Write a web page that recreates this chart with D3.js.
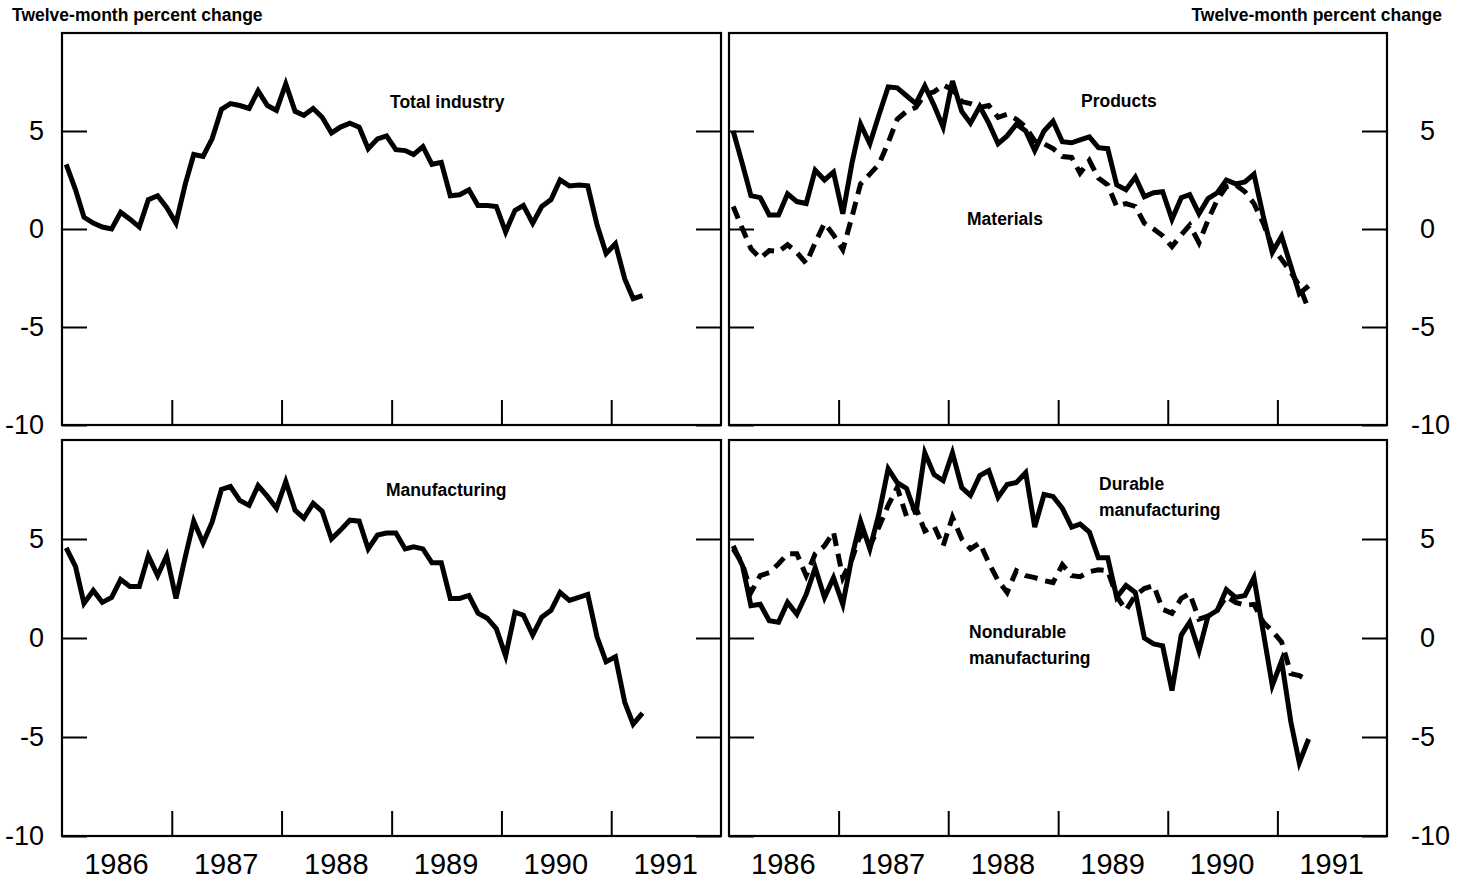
<!DOCTYPE html>
<html><head><meta charset="utf-8">
<script src="https://cdn.jsdelivr.net/npm/d3@7"></script>
<style>
body{margin:0;background:#fff}
svg{display:block}
text{font-family:"Liberation Sans",Arial,Helvetica,sans-serif;fill:#000}
</style>
</head><body>
<svg id="chart" width="1463" height="883"></svg>
<script>
// ---- data (twelve-month percent change, monthly, Jan 1986 - Apr 1991) ----
const startYear = 1986;
const totalIndustry = [3.3,2.0,0.6,0.3,0.1,0.0,0.85,0.5,0.1,1.5, 1.7,1.1,0.3,2.3,3.8,3.7,4.6,6.1,6.4,6.3, 6.15,7.05,6.3,6.05,7.4,6.0,5.8,6.15,5.7,4.9, 5.2,5.4,5.2,4.1,4.6,4.75,4.05,4.0,3.8,4.2, 3.3,3.4,1.7,1.75,2.0,1.2,1.2,1.15,-0.15,0.95, 1.2,0.3,1.15,1.5,2.5,2.2,2.25,2.2,0.2,-1.25, -0.75,-2.55,-3.55,-3.4];
const products = [5.0,3.3,1.7,1.6,0.72,0.72,1.8,1.4,1.3,3.0, 2.5,2.9,0.78,3.4,5.35,4.35,5.8,7.25,7.2,6.8, 6.4,7.3,6.3,5.2,7.55,6.0,5.4,6.25,5.4,4.35, 4.75,5.35,5.0,4.0,5.0,5.5,4.45,4.4,4.55,4.7, 4.15,4.1,2.25,2.0,2.65,1.65,1.85,1.9,0.5,1.6, 1.75,0.78,1.55,1.85,2.5,2.3,2.4,2.8,0.65,-1.2, -0.37,-1.9,-3.3,-2.9];
const materials = [1.15,0.0,-1.0,-1.5,-1.1,-1.15,-0.8,-1.2,-1.75,-0.7, 0.3,-0.3,-1.05,0.65,2.3,2.8,3.3,4.4,5.6,6.0, 6.2,6.85,7.0,7.35,7.1,6.5,6.4,6.2,6.3,5.7, 5.85,5.6,5.2,4.5,4.35,4.1,3.7,3.65,2.85,3.5, 2.6,2.25,1.15,1.3,1.15,0.3,0.0,-0.35,-0.9,-0.3, 0.2,-0.7,0.45,1.5,2.15,2.25,1.9,1.3,0.3,-0.9, -1.55,-2.2,-2.9,-4.1];
const manufacturing = [4.55,3.6,1.75,2.4,1.8,2.05,2.95,2.6,2.6,4.15, 3.15,4.15,2.0,4.1,5.9,4.8,5.85,7.5,7.65,6.95, 6.7,7.7,7.15,6.55,7.9,6.45,6.05,6.8,6.4,5.0, 5.45,5.95,5.9,4.5,5.2,5.3,5.3,4.5,4.6,4.5, 3.8,3.8,2.0,2.0,2.15,1.25,1.0,0.47,-0.9,1.3, 1.15,0.15,1.05,1.4,2.3,1.9,2.05,2.2,0.05,-1.2, -0.95,-3.25,-4.35,-3.8];
const durable = [4.65,3.65,1.63,1.7,0.87,0.8,1.8,1.2,2.2,3.55, 2.05,3.05,1.7,4.15,5.9,4.5,6.25,8.55,7.85,7.55, 6.25,9.35,8.25,7.95,9.35,7.6,7.2,8.2,8.45,7.1, 7.75,7.85,8.35,5.6,7.25,7.15,6.55,5.6,5.75,5.35, 4.05,4.05,2.05,2.65,2.3,0.0,-0.3,-0.4,-2.65,0.15, 0.8,-0.65,1.1,1.4,2.45,2.05,2.15,3.05,0.3,-2.4, -1.15,-4.25,-6.3,-5.1];
const nondurable = [4.5,3.75,2.3,3.15,3.3,3.75,4.25,4.25,3.15,4.25, 4.65,5.35,3.05,4.0,5.25,4.65,5.6,6.7,7.6,6.15, 6.6,5.4,5.65,4.65,6.1,5.0,4.5,4.8,3.8,2.9, 2.3,3.4,3.15,3.05,2.9,2.8,3.7,3.15,3.1,3.35, 3.45,3.4,2.1,1.4,2.15,2.5,2.65,1.45,1.25,2.0, 2.25,0.95,1.1,1.4,2.1,1.8,1.65,1.7,0.8,0.35, -0.2,-1.8,-1.9,-2.15];

const yTickValues = [-10, -5, 0, 5];
const yearLabels = [1986, 1987, 1988, 1989, 1990, 1991];
const yearTicks = [1987, 1988, 1989, 1990, 1991];
const axisTitle = "Twelve-month percent change";

// ---- layout ----
const svg = d3.select("#chart");
svg.append("rect").attr("width", 1463).attr("height", 883).attr("fill", "#fff");

const monthDate = i => new Date(startYear, i, 15);
const domainX = [new Date(startYear, 0, 1), new Date(1992, 0, 1)];

const panels = [
  {x0: 62, x1: 721, y0: 33, y1: 425, outer: "left",
   series: [{v: totalIndustry, dash: null}],
   labels: [{lines: ["Total industry"], x: 390, y: 108}]},
  {x0: 729, x1: 1387, y0: 33, y1: 425, outer: "right",
   series: [{v: materials, dash: "13,8"}, {v: products, dash: null}],
   labels: [{lines: ["Products"], x: 1081, y: 107}, {lines: ["Materials"], x: 967, y: 225}]},
  {x0: 62, x1: 721, y0: 440, y1: 836, outer: "left",
   series: [{v: manufacturing, dash: null}],
   labels: [{lines: ["Manufacturing"], x: 386, y: 496}]},
  {x0: 729, x1: 1387, y0: 440, y1: 836, outer: "right",
   series: [{v: nondurable, dash: "13,8"}, {v: durable, dash: null}],
   labels: [{lines: ["Durable", "manufacturing"], x: 1099, y: 490},
            {lines: ["Nondurable", "manufacturing"], x: 969, y: 638}]}
];

const fmt = d => String(d);

panels.forEach(p => {
  const x = d3.scaleTime().domain(domainX).range([p.x0, p.x1]);
  const y = d3.scaleLinear().domain([-10, 10]).range([p.y1, p.y0]);
  const g = svg.append("g");

  const la = g.append("g").attr("transform", `translate(${p.x0},0)`)
    .call(d3.axisLeft(y).tickValues(yTickValues).tickSize(-25).tickPadding(18)
      .tickFormat(p.outer === "left" ? fmt : () => ""));
  const ra = g.append("g").attr("transform", `translate(${p.x1},0)`)
    .call(d3.axisRight(y).tickValues(yTickValues).tickSize(-25).tickPadding(33)
      .tickFormat(p.outer === "right" ? fmt : () => ""));
  const ba = g.append("g").attr("transform", `translate(0,${p.y1})`)
    .call(d3.axisBottom(x).tickValues(yearTicks.map(yr => new Date(yr, 0, 1)))
      .tickSize(-25).tickFormat(() => ""));

  [la, ra, ba].forEach(a => {
    a.select(".domain").remove();
    a.selectAll(".tick line").attr("stroke", "#000").attr("stroke-width", 2);
    a.selectAll("text").attr("font-size", 27).attr("font-family", null);
  });

  if (p.outer === "right") {
    const tmp = svg.append("text").attr("font-size", 27).text("-");
    const mw = tmp.node().getComputedTextLength();
    tmp.remove();
    ra.selectAll(".tick text").attr("x", d => d < 0 ? 33 - mw : 33);
  }

  g.append("rect").attr("x", p.x0).attr("y", p.y0)
    .attr("width", p.x1 - p.x0).attr("height", p.y1 - p.y0)
    .attr("fill", "none").attr("stroke", "#000").attr("stroke-width", 2.2);

  const line = d3.line().x((d, i) => x(monthDate(i))).y(d => y(d));
  p.series.forEach(s => {
    g.append("path").datum(s.v).attr("d", line)
      .attr("fill", "none").attr("stroke", "#000").attr("stroke-width", 5)
      .attr("stroke-linejoin", "miter").attr("stroke-miterlimit", 4)
      .attr("stroke-dasharray", s.dash);
  });

  p.labels.forEach(l => {
    l.lines.forEach((t, k) => {
      g.append("text").attr("x", l.x).attr("y", l.y + k * 26)
        .attr("font-size", 17.5).attr("font-weight", "bold").text(t);
    });
  });

  if (p.y1 > 600) {
    g.selectAll(".yl").data(yearLabels).enter().append("text")
      .attr("x", yr => x(new Date(yr, 6, 1))).attr("y", 874)
      .attr("text-anchor", "middle").attr("font-size", 29).text(yr => yr);
  }
});

svg.append("text").attr("x", 12).attr("y", 21).attr("font-size", 17.5)
  .attr("font-weight", "bold").text(axisTitle);
svg.append("text").attr("x", 1442).attr("y", 21).attr("text-anchor", "end")
  .attr("font-size", 17.5).attr("font-weight", "bold").text(axisTitle);
</script>
</body></html>
